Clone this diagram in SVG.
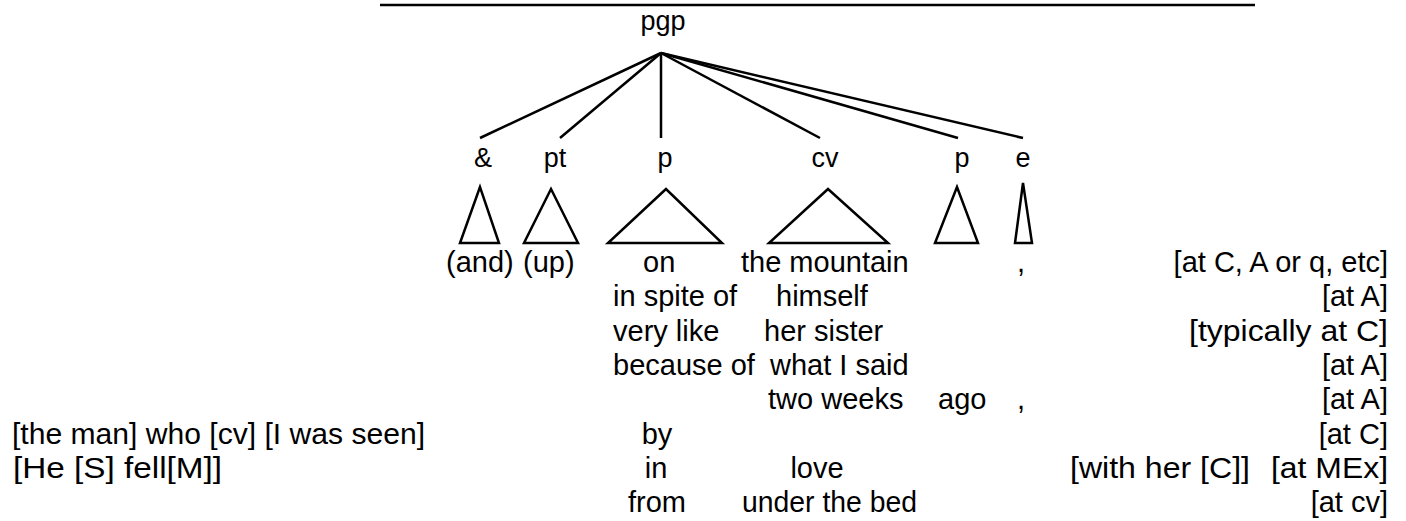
<svg xmlns="http://www.w3.org/2000/svg" width="1406" height="521" viewBox="0 0 1406 521">
<style>
text{font-family:"Liberation Sans",Arial,sans-serif;font-size:29px;fill:#000}
.lbl{font-size:27px}
.m{text-anchor:middle}
.e{text-anchor:end}
line,polygon{stroke:#000;stroke-width:2.5;fill:none}
</style>
<rect width="1406" height="521" fill="#fff"/>
<line x1="380" y1="5" x2="1255" y2="5" stroke-width="3"/>
<g id="root"><text class="lbl m" x="663" y="30">pgp</text></g>
<g id="connectors">
<line x1="661" y1="53" x2="480" y2="138"/>
<line x1="661" y1="53" x2="560" y2="138"/>
<line x1="661" y1="53" x2="661" y2="138"/>
<line x1="661" y1="53" x2="820" y2="138"/>
<line x1="661" y1="53" x2="958" y2="138"/>
<line x1="661" y1="53" x2="1023" y2="138"/>
</g>
<g id="n-and"><text class="lbl m" x="483" y="167">&amp;</text><polygon points="480,187 460,243 499,243"/></g>
<g id="n-pt"><text class="lbl m" x="555" y="167">pt</text><polygon points="551,189 524,243 578,243"/></g>
<g id="n-p1"><text class="lbl m" x="665" y="167">p</text><polygon points="666,189 608,243 722,243"/></g>
<g id="n-cv"><text class="lbl m" x="825" y="167">cv</text><polygon points="828,189 769,243 888,243"/></g>
<g id="n-p2"><text class="lbl m" x="962" y="167">p</text><polygon points="957,187 935,243 978,243"/></g>
<g id="n-e"><text class="lbl m" x="1023" y="167">e</text><polygon points="1023,183 1015,243 1032,243"/></g>
<g id="rows">
<text x="446" y="272">(and)</text><text x="523" y="272">(up)</text><text x="643" y="272">on</text><text x="741" y="272">the mountain</text><text class="m" x="1021" y="272">,</text><text class="e" x="1388" y="272">[at C, A or q, etc]</text>
<text x="613" y="306">in spite of</text><text x="776" y="306">himself</text><text class="e" x="1388" y="306">[at A]</text>
<text x="613" y="341">very like</text><text x="764" y="341">her sister</text><text x="1189" y="341" textLength="199" lengthAdjust="spacingAndGlyphs">[typically at C]</text>
<text x="613" y="375">because of</text><text x="770" y="375">what I said</text><text class="e" x="1388" y="375">[at A]</text>
<text x="768" y="409">two weeks</text><text x="938" y="409">ago</text><text class="m" x="1021" y="409">,</text><text class="e" x="1388" y="409">[at A]</text>
<text x="12" y="444" textLength="413" lengthAdjust="spacingAndGlyphs">[the man] who [cv] [I was seen]</text><text class="m" x="657" y="444">by</text><text class="e" x="1388" y="444">[at C]</text>
<text x="13" y="478" textLength="209" lengthAdjust="spacingAndGlyphs">[He [S] fell[M]]</text><text class="m" x="656" y="478">in</text><text class="m" x="817" y="478">love</text><text x="1070" y="478" textLength="180" lengthAdjust="spacingAndGlyphs">[with her [C]]</text><text x="1271" y="478" textLength="117" lengthAdjust="spacingAndGlyphs">[at MEx]</text>
<text class="m" x="657" y="512">from</text><text x="742" y="512" textLength="175" lengthAdjust="spacingAndGlyphs">under the bed</text><text class="e" x="1388" y="512">[at cv]</text>
</g>
</svg>
